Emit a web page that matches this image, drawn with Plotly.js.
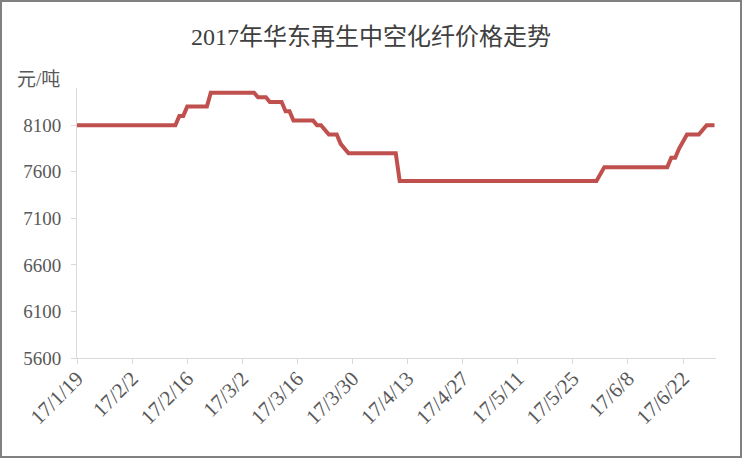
<!DOCTYPE html>
<html>
<head>
<meta charset="utf-8">
<script src="https://cdn.plot.ly/plotly-3.0.1.min.js"></script>
<style>
  html, body { margin: 0; padding: 0; background: #fff; }
  #frame { width: 738px; height: 454px; border: 2px solid #808080; }
  #chart { width: 738px; height: 454px; }
</style>
</head>
<body>
<div id="frame"><div id="chart"></div></div>
<script>
// Data
const dates = ['2017-01-19','2017-02-13','2017-02-14','2017-02-15','2017-02-16','2017-02-21','2017-02-22',
  '2017-03-05','2017-03-06','2017-03-08','2017-03-09','2017-03-12','2017-03-13','2017-03-14','2017-03-15',
  '2017-03-20','2017-03-21','2017-03-22','2017-03-24','2017-03-26','2017-03-27','2017-03-29','2017-04-10',
  '2017-04-11','2017-05-31','2017-06-02','2017-06-18','2017-06-19','2017-06-20','2017-06-21','2017-06-23',
  '2017-06-26','2017-06-28','2017-06-30'];
const prices = [8100,8100,8200,8200,8300,8300,8450,
  8450,8400,8400,8350,8350,8250,8250,8150,
  8150,8100,8100,8000,8000,7900,7800,7800,
  7500,7500,7650,7650,7750,7750,7850,8000,
  8000,8100,8100];

const tickDates = ['2017-01-19','2017-02-02','2017-02-16','2017-03-02','2017-03-16','2017-03-30',
  '2017-04-13','2017-04-27','2017-05-11','2017-05-25','2017-06-08','2017-06-22'];
const tickLabels = ['17/1/19','17/2/2','17/2/16','17/3/2','17/3/16','17/3/30',
  '17/4/13','17/4/27','17/5/11','17/5/25','17/6/8','17/6/22'];
const yTicks = [5600,6100,6600,7100,7600,8100];

const chartTitle = '2017年华东再生中空化纤价格走势';
const unitLabel = '元/吨';

const serif = 'Liberation Serif, "Noto Sans CJK SC", serif';

const trace = {
  x: dates, y: prices, type: 'scatter', mode: 'lines',
  line: { color: '#C0504D', width: 4, shape: 'linear' },
  hoverinfo: 'x+y'
};

const layout = {
  width: 738, height: 454,
  margin: { l: 75, r: 24, t: 86, b: 98 },
  paper_bgcolor: '#ffffff', plot_bgcolor: '#ffffff',
  showlegend: false,
  title: {
    text: chartTitle,
    font: { family: serif, size: 24, color: '#404040' },
    x: 0.5, xanchor: 'center', xref: 'container',
    y: 1, yref: 'container', yanchor: 'top', pad: { t: 26 }
  },
  xaxis: {
    type: 'date',
    range: ['2017-01-19', '2017-06-30 09:00'],
    tickmode: 'array', tickvals: tickDates, ticktext: tickLabels,
    tickangle: -45,
    tickfont: { family: serif, size: 21, color: '#595959' },
    ticklabelstandoff: -6,
    showgrid: false, zeroline: false,
    showline: true, linecolor: '#D9D9D9', linewidth: 1,
    ticks: 'outside', ticklen: 5, tickcolor: '#D9D9D9',
    fixedrange: true
  },
  yaxis: {
    range: [5600, 8500],
    tickmode: 'array', tickvals: yTicks,
    tickfont: { family: serif, size: 19, color: '#595959' },
    ticklabelstandoff: 6,
    showgrid: false, zeroline: false,
    showline: true, linecolor: '#D9D9D9', linewidth: 1,
    ticks: 'outside', ticklen: 5, tickcolor: '#D9D9D9',
    fixedrange: true
  },
  annotations: [{
    text: unitLabel, xref: 'paper', yref: 'paper',
    x: -0.023, y: 0.985, xanchor: 'right', yanchor: 'bottom',
    showarrow: false,
    font: { family: serif, size: 19, color: '#595959' }
  }]
};

Plotly.newPlot('chart', [trace], layout, { displayModeBar: false, staticPlot: true });
</script>
</body>
</html>
